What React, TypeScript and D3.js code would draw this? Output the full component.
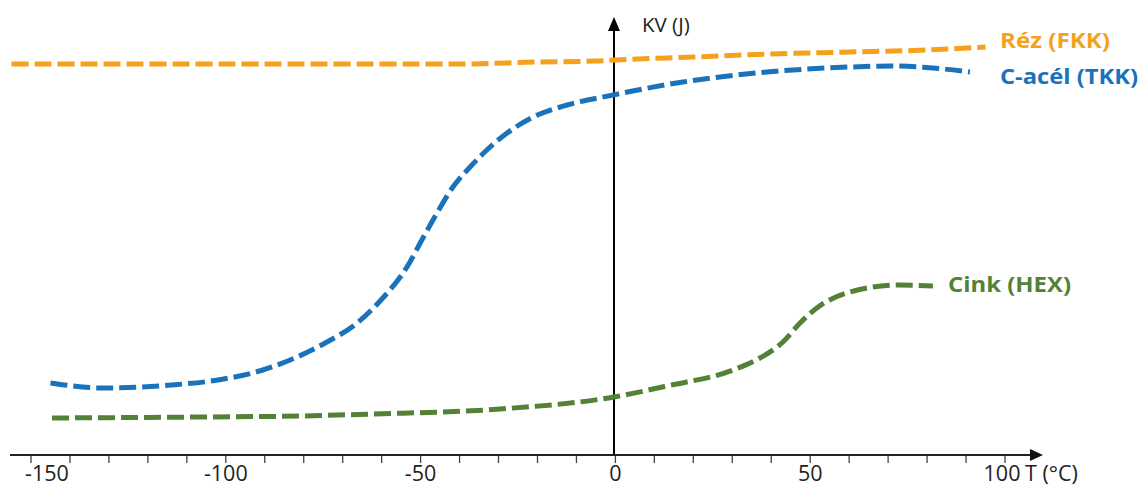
import React from "react";
import * as d3 from "d3";

const W = 1145;
const H = 487;

// x-axis ticks (°C)
const tickValues = d3.range(-150, 101, 10);
const tickLabels = [-150, -100, -50, 0, 50, 100];

// Réz (FKK) - FCC copper
const rezT = [-155, -120, -80, -40, -20, -5, 0, 20, 40, 60, 80, 95];
const rezKV = [195.5, 195.5, 195.5, 195.5, 196.5, 197, 197.5, 199, 200.5, 201.5, 202.5, 204];

// C-acél (TKK) - BCC carbon steel
const acelT = [-145, -131.5, -114, -102, -90.5, -83.5, -74.5, -66.3, -60.4, -53.5, -49.4, -45.8, -41.7, -37.3, -33, -27.8, -21.1, -12.4, -0.6, 17.3, 38.9, 60.2, 71.2, 81.5, 91];
const acelKV = [36, 33.5, 35, 37.5, 42.5, 47.5, 56, 66, 77, 94, 108.5, 121, 134, 144, 152.5, 161, 169, 175, 180, 186.5, 191.5, 194, 194.5, 193.5, 191.5];

// Cink (HEX) - HCP zinc
const cinkT = [-144.6, -106.6, -81, -62.2, -29.6, -0.4, 13.2, 30.2, 37.1, 43, 47.4, 51.7, 60.2, 73, 81.5];
const cinkKV = [18.5, 19, 19.5, 20.5, 23, 29, 34.5, 42.5, 48.5, 56.5, 66, 73.5, 81.5, 85, 84.5];

const series = [
  { name: "Réz (FKK)", T: rezT, KV: rezKV, color: "#f4a11c" },
  { name: "C-acél (TKK)", T: acelT, KV: acelKV, color: "#1a72bb" },
  { name: "Cink (HEX)", T: cinkT, KV: cinkKV, color: "#538135" },
];

export default function App() {
  const x = d3.scaleLinear().domain([-150, 100]).range([31, 1005]);
  const y = d3.scaleLinear().domain([0, 220]).range([455, 15]);
  const x0 = x(0) - 1.4; // y axis position
  const yAxisY = y(0);

  const line = d3
    .line<[number, number]>()
    .x((d) => x(d[0]))
    .y((d) => y(d[1]))
    .curve(d3.curveMonotoneX);

  const font = "'Open Sans', 'Liberation Sans', sans-serif";

  return (
    <svg
      width={W}
      height={H}
      style={{ position: "absolute", left: 0, top: 0, background: "#fff" }}
      fontFamily={font}
    >
      <rect width={W} height={H} fill="#fff" />
      {/* x axis */}
      <line x1={10} x2={1032} y1={yAxisY} y2={yAxisY} stroke="#222" strokeWidth={2} />
      <path d={`M1043,${yAxisY} L1030,${yAxisY - 6} L1030,${yAxisY + 6} Z`} fill="#111" />
      {tickValues.map((t) => (
        <line
          key={t}
          x1={x(t)}
          x2={x(t)}
          y1={yAxisY + 1}
          y2={yAxisY + 8}
          stroke="#444"
          strokeWidth={1.3}
        />
      ))}
      {tickLabels.map((t, i) => (
        <text
          key={t}
          x={x(t)}
          y={481}
          dx={i === 0 ? 16 : t === 100 ? -3 : 0}
          textAnchor="middle"
          fontSize={21.5}
          fill="#222"
        >
          {t}
        </text>
      ))}
      <text x={1025} y={481} fontSize={21.5} fill="#222">
        T (°C)
      </text>

      {/* y axis */}
      <line x1={x0} x2={x0} y1={yAxisY} y2={28} stroke="#000" strokeWidth={2} />
      <path d={`M${x0},17 L${x0 - 6},31 L${x0 + 6},31 Z`} fill="#000" />
      <text x={642} y={32} fontSize={20.5} fill="#222">
        KV (J)
      </text>

      {/* curves */}
      {series.map((s) => (
        <path
          key={s.name}
          d={line(s.T.map((t, i) => [t, s.KV[i]] as [number, number])) || ""}
          fill="none"
          stroke={s.color}
          strokeWidth={5}
          strokeDasharray="17 6"
        />
      ))}

      {/* labels */}
      <text x={1000} y={48} fontSize={21} fontWeight="bold" fill={series[0].color} textLength={110} lengthAdjust="spacingAndGlyphs">
        {series[0].name}
      </text>
      <text x={1000} y={84} fontSize={21} fontWeight="bold" fill={series[1].color} textLength={138} lengthAdjust="spacingAndGlyphs">
        {series[1].name}
      </text>
      <text x={948} y={292} fontSize={21} fontWeight="bold" fill={series[2].color} textLength={123} lengthAdjust="spacingAndGlyphs">
        {series[2].name}
      </text>
    </svg>
  );
}
